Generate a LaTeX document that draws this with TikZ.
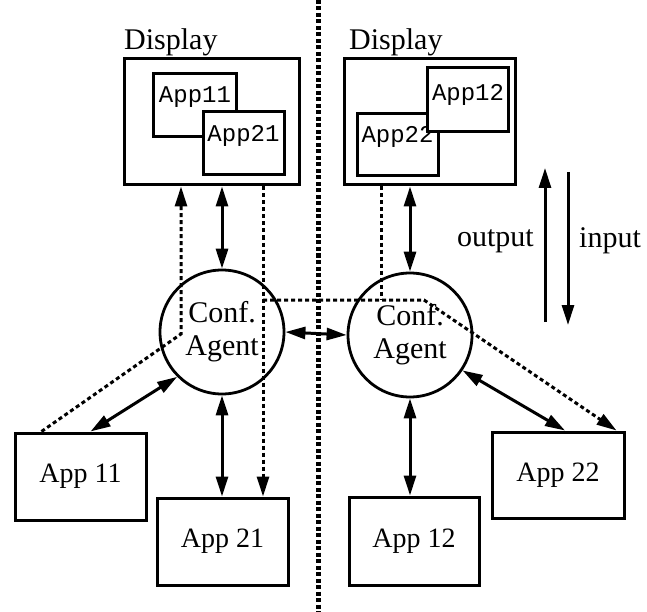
\documentclass[tikz,border=0pt]{standalone}
\usepackage{fontspec}
\setmainfont{Liberation Serif}
\newfontfamily\cour{Liberation Mono}
\usetikzlibrary{arrows.meta}
\begin{document}
\begin{tikzpicture}[x=1pt,y=-1pt,
  box/.style={draw, line width=3pt, inner sep=0pt, fill=white},
  win/.style={draw, line width=3pt, inner sep=0pt, fill=white},
  agent/.style={draw, circle, line width=2.8pt, inner sep=0pt, minimum size=124pt, align=center, font=\fontsize{30}{33}\selectfont},
  lbl/.style={font=\fontsize{30}{32}\selectfont, inner sep=0pt},
  winlbl/.style={font=\cour\fontsize{24}{26}\selectfont, inner sep=0pt},
  tip/.style={-{Triangle[length=20pt,width=12pt]}},
  dtip/.style={{Triangle[length=20pt,width=12pt]}-{Triangle[length=20pt,width=12pt]}},
  solidc/.style={line width=3pt},
  dashc/.style={line width=3pt, dash pattern=on 4pt off 3pt},
  divider/.style={line width=5pt, dash pattern=on 4pt off 2.5pt}
]
\useasboundingbox (0,0) rectangle (647,612);
\fill[white] (0,0) rectangle (647,612);

% divider
\coordinate (dvt) at (318,0);
\coordinate (dvb) at (318,612);
\draw[divider] (dvt) -- (dvb);

% displays
\node[box, minimum width=175pt, minimum height=126pt] (dispL) at (211.5,122) {};
\node[lbl, anchor=base west] (dispLt) at (124,50) {Display};
\node[win, minimum width=83pt, minimum height=63pt] (w11) at (194.5,105.5) {};
\node[winlbl] (w11t) at (195,97) {App11};
\node[win, minimum width=81pt, minimum height=63pt] (w21) at (243.5,143.5) {};
\node[winlbl] (w21t) at (243.5,136) {App21};

\node[box, minimum width=171pt, minimum height=126pt] (dispR) at (429.5,122) {};
\node[lbl, anchor=base west] (dispRt) at (349,50) {Display};
\node[win, minimum width=81pt, minimum height=62pt] (w22) at (397.5,145) {};
\node[winlbl] (w22t) at (397.5,137) {App22};
\node[win, minimum width=81pt, minimum height=64pt] (w12) at (467.5,100) {};
\node[winlbl] (w12t) at (468,95) {App12};

% agents
\node[agent] (cL) at (222,332) {Conf.\\Agent};
\node[agent] (cR) at (410,335) {Conf.\\Agent};

% applications
\node[box, minimum width=131pt, minimum height=87pt, font=\fontsize{28}{30}\selectfont] (a11) at (80.5,476.5) {App 11};
\node[box, minimum width=131pt, minimum height=87pt, font=\fontsize{28}{30}\selectfont] (a21) at (222.5,541.5) {App 21};
\node[box, minimum width=130pt, minimum height=88pt, font=\fontsize{28}{30}\selectfont] (a12) at (414,541) {App 12};
\node[box, minimum width=132pt, minimum height=86pt, font=\fontsize{28}{30}\selectfont] (a22) at (558,475) {App 22};

% solid connectors
\draw[solidc, dtip] (cL.north |- dispL.south) -- (cL.north);
\draw[solidc, dtip] (cR.north |- dispR.south) -- (cR.north);
\draw[solidc, dtip] (cL.east) -- (cR.west);
\draw[solidc, dtip] (cL.225) -- ([xshift=10pt]a11.north);
\draw[solidc, dtip] (cL.south) -- (cL.south |- a21.north);
\draw[solidc, dtip] (cR.south) -- (cR.south |- a12.north);
\draw[solidc, dtip] (cR.-34) -- ([xshift=7pt]a22.north);

% dashed connectors
\coordinate (jL) at (181,334);
\draw[dashc, tip] ([xshift=28pt]a11.north west) -- (jL) -- (jL |- dispL.south);
\coordinate (xin) at (263,185);
\coordinate (hin) at (263,300);
\coordinate (hbend) at (424,300);
\draw[dashc, tip] (xin |- dispL.south) -- (xin |- a21.north);
\draw[dashc, tip] (hin) -- (hbend) -- ([xshift=-9pt]a22.north east);
\coordinate (rout) at (381,300);
\draw[dashc] (rout |- dispR.south) -- (rout);

% legend
\coordinate (ob) at (545,322);
\coordinate (ot) at (545,168);
\coordinate (it) at (568,172);
\coordinate (ib) at (568,325);
\draw[solidc, tip] (ob) -- (ot);
\draw[solidc, tip] (it) -- (ib);
\node[lbl, anchor=east] (outl) at (534,241) {output};
\node[lbl, anchor=west] (inl) at (579,241) {input};
\end{tikzpicture}
\end{document}
